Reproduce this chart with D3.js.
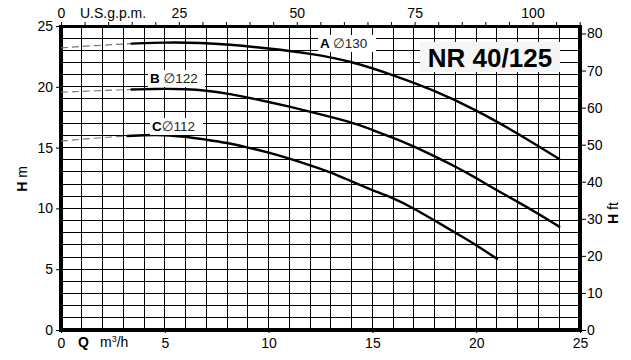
<!DOCTYPE html>
<html><head><meta charset="utf-8">
<script src="https://cdn.jsdelivr.net/npm/d3@7"></script>
<style>
body{margin:0;background:#fff;}
svg{display:block;font-family:"Liberation Sans",Arial,"DejaVu Sans",sans-serif;}
</style></head>
<body><svg id="c" width="631" height="360"></svg>
<script>
// Data (Q in m3/h, H in m)
const qA = [3.4, 5, 6.8, 8, 10, 12, 14, 16, 18, 20, 22, 24];
const hA = [23.55, 23.66, 23.62, 23.5, 23.16, 22.75, 22.1, 20.97, 19.7, 18.1, 16.17, 14.06];
const qAd = [0, 1.7, 3.4];
const hAd = [23.2, 23.4, 23.55];

const qB = [3.4, 5, 6, 7, 8, 9, 10, 11, 12, 14, 15, 16, 17, 18, 19, 20, 21, 22, 23, 24];
const hB = [19.78, 19.84, 19.82, 19.7, 19.46, 19.12, 18.75, 18.37, 17.95, 17.1, 16.45, 15.8, 15.1, 14.28, 13.45, 12.5, 11.48, 10.55, 9.55, 8.5];
const qBd = [0, 1.7, 3.4];
const hBd = [19.55, 19.68, 19.78];

const qC = [3.2, 4.6, 6, 7, 8, 9, 10, 11, 12, 13, 14, 15, 16, 17, 18, 19, 20, 21];
const hC = [15.95, 16.09, 15.9, 15.65, 15.4, 15.0, 14.6, 14.1, 13.55, 12.98, 12.22, 11.5, 10.85, 10.0, 9.0, 8.0, 7.0, 5.85];
const qCd = [0, 1.6, 3.2];
const hCd = [15.54, 15.78, 15.95];

const curveNames = ["A", "B", "C"];
const curveDiams = ["\u2205130", "\u2205122", "\u2205112"];

const bottomTicks = [0, 5, 10, 15, 20, 25];
const leftTicks = [0, 5, 10, 15, 20, 25];
const rightTicks = [0, 10, 20, 30, 40, 50, 60, 70, 80];
const topLabelTicks = [0, 25, 50, 75, 100];
const title = "NR 40/125";

const GPM = 4.4029, FT = 3.28084;

const svg = d3.select("#c");
const x = d3.scaleLinear([0, 25], [61, 580]);
const y = d3.scaleLinear([0, 25], [330, 26]);
const xg = d3.scaleLinear([0, 25 * GPM], [61, 580]);
const yf = d3.scaleLinear([0, 25 * FT], [330, 26]);

// grid
const g = svg.append("g").attr("stroke", "#000").attr("stroke-width", 1).attr("shape-rendering", "crispEdges");
d3.range(1, 25).forEach(v => {
  g.append("line").attr("x1", x(v)).attr("x2", x(v)).attr("y1", y(0)).attr("y2", y(25));
  g.append("line").attr("x1", x(0)).attr("x2", x(25)).attr("y1", y(v)).attr("y2", y(v));
});

// axes
function styleAxis(sel) {
  sel.select(".domain").remove();
  sel.selectAll("text").attr("font-size", 14).attr("fill", "#000").attr("font-family", "Liberation Sans, Arial, sans-serif");
  sel.selectAll("line").attr("stroke", "#000");
}
svg.append("g").attr("transform", `translate(0,${y(0)})`)
  .call(d3.axisBottom(x).tickValues(bottomTicks).tickSize(3).tickPadding(5).tickFormat(d3.format("d"))).call(styleAxis);
svg.append("g").attr("transform", `translate(${x(0)},0)`)
  .call(d3.axisLeft(y).tickValues(leftTicks).tickSize(5).tickPadding(3).tickFormat(d3.format("d"))).call(styleAxis);
svg.append("g").attr("transform", `translate(582,0)`)
  .call(d3.axisRight(yf).tickValues(rightTicks).tickSize(4).tickPadding(1).tickFormat(d3.format("d"))).call(styleAxis);
svg.append("g").attr("transform", `translate(0,${y(25)})`)
  .call(d3.axisTop(xg).tickValues(d3.range(0, 111, 5)).tickSize(4).tickPadding(4)
    .tickFormat(d => topLabelTicks.includes(d) ? d : "")).call(styleAxis);

// frame
const f = svg.append("g").attr("stroke", "#000").attr("shape-rendering", "crispEdges");
f.append("line").attr("x1", x(0)).attr("x2", x(0)).attr("y1", y(25) - 1).attr("y2", y(0) + 2).attr("stroke-width", 4);
f.append("line").attr("x1", x(25)).attr("x2", x(25)).attr("y1", y(25) - 1).attr("y2", y(0) + 2).attr("stroke-width", 4);
f.append("line").attr("x1", x(0) - 2).attr("x2", x(25) + 2).attr("y1", y(0)).attr("y2", y(0)).attr("stroke-width", 4);
f.append("line").attr("x1", x(0) - 2).attr("x2", x(25) + 2).attr("y1", y(25)).attr("y2", y(25)).attr("stroke-width", 3);

// curves
const line = d3.line().x(d => x(d[0])).y(d => y(d[1])).curve(d3.curveBasis);
const solids = [[qA, hA], [qB, hB], [qC, hC]];
const dashes = [[qAd, hAd], [qBd, hBd], [qCd, hCd]];
dashes.forEach(([q, h]) => {
  svg.append("path").attr("d", line(q.map((v, i) => [v, h[i]])))
    .attr("fill", "none").attr("stroke", "#777").attr("stroke-width", 1.2).attr("stroke-dasharray", "7,4");
});
solids.forEach(([q, h]) => {
  svg.append("path").attr("d", line(q.map((v, i) => [v, h[i]])))
    .attr("fill", "none").attr("stroke", "#000").attr("stroke-width", 2.4).attr("stroke-linecap", "round");
});

// curve labels
const labelPos = [[320, 48, 318, 35, 58], [150, 83, 148, 70, 57], [152, 131, 150, 118, 53]];
labelPos.forEach((p, i) => {
  svg.append("rect").attr("x", p[2]).attr("y", p[3]).attr("width", p[4]).attr("height", 17).attr("fill", "#fff");
  const t = svg.append("text").attr("x", p[0]).attr("y", p[1]).attr("font-size", 13.5).attr("fill", "#000");
  t.append("tspan").attr("font-weight", "bold").text(curveNames[i] + (i < 2 ? " " : ""));
  t.append("tspan").attr("fill", "#222").text(curveDiams[i]);
});

// title box
svg.append("rect").attr("x", 420).attr("y", 42).attr("width", 140).attr("height", 30).attr("fill", "#f5f5f5");
svg.append("text").attr("x", 490).attr("y", 67).attr("text-anchor", "middle").attr("font-size", 26)
  .attr("font-weight", "bold").attr("fill", "#000").text(title);

// axis titles
svg.append("text").attr("x", 80).attr("y", 18).attr("font-size", 14).text("U.S.g.p.m.");
const qt = svg.append("text").attr("x", 78).attr("y", 347).attr("font-size", 14);
qt.append("tspan").attr("font-weight", "bold").text("Q");
qt.append("tspan").attr("x", 100).text("m");
qt.append("tspan").attr("font-size", 9).attr("dy", -5).text("3");
qt.append("tspan").attr("dy", 5).text("/h");

const hm = svg.append("text").attr("transform", "translate(27,179) rotate(-90)").attr("text-anchor", "middle").attr("font-size", 14);
hm.append("tspan").attr("font-weight", "bold").text("H");
hm.append("tspan").text(" m");
const hf = svg.append("text").attr("transform", "translate(618,213) rotate(-90)").attr("text-anchor", "middle").attr("font-size", 14);
hf.append("tspan").attr("font-weight", "bold").text("H");
hf.append("tspan").text(" ft");
</script></body></html>
